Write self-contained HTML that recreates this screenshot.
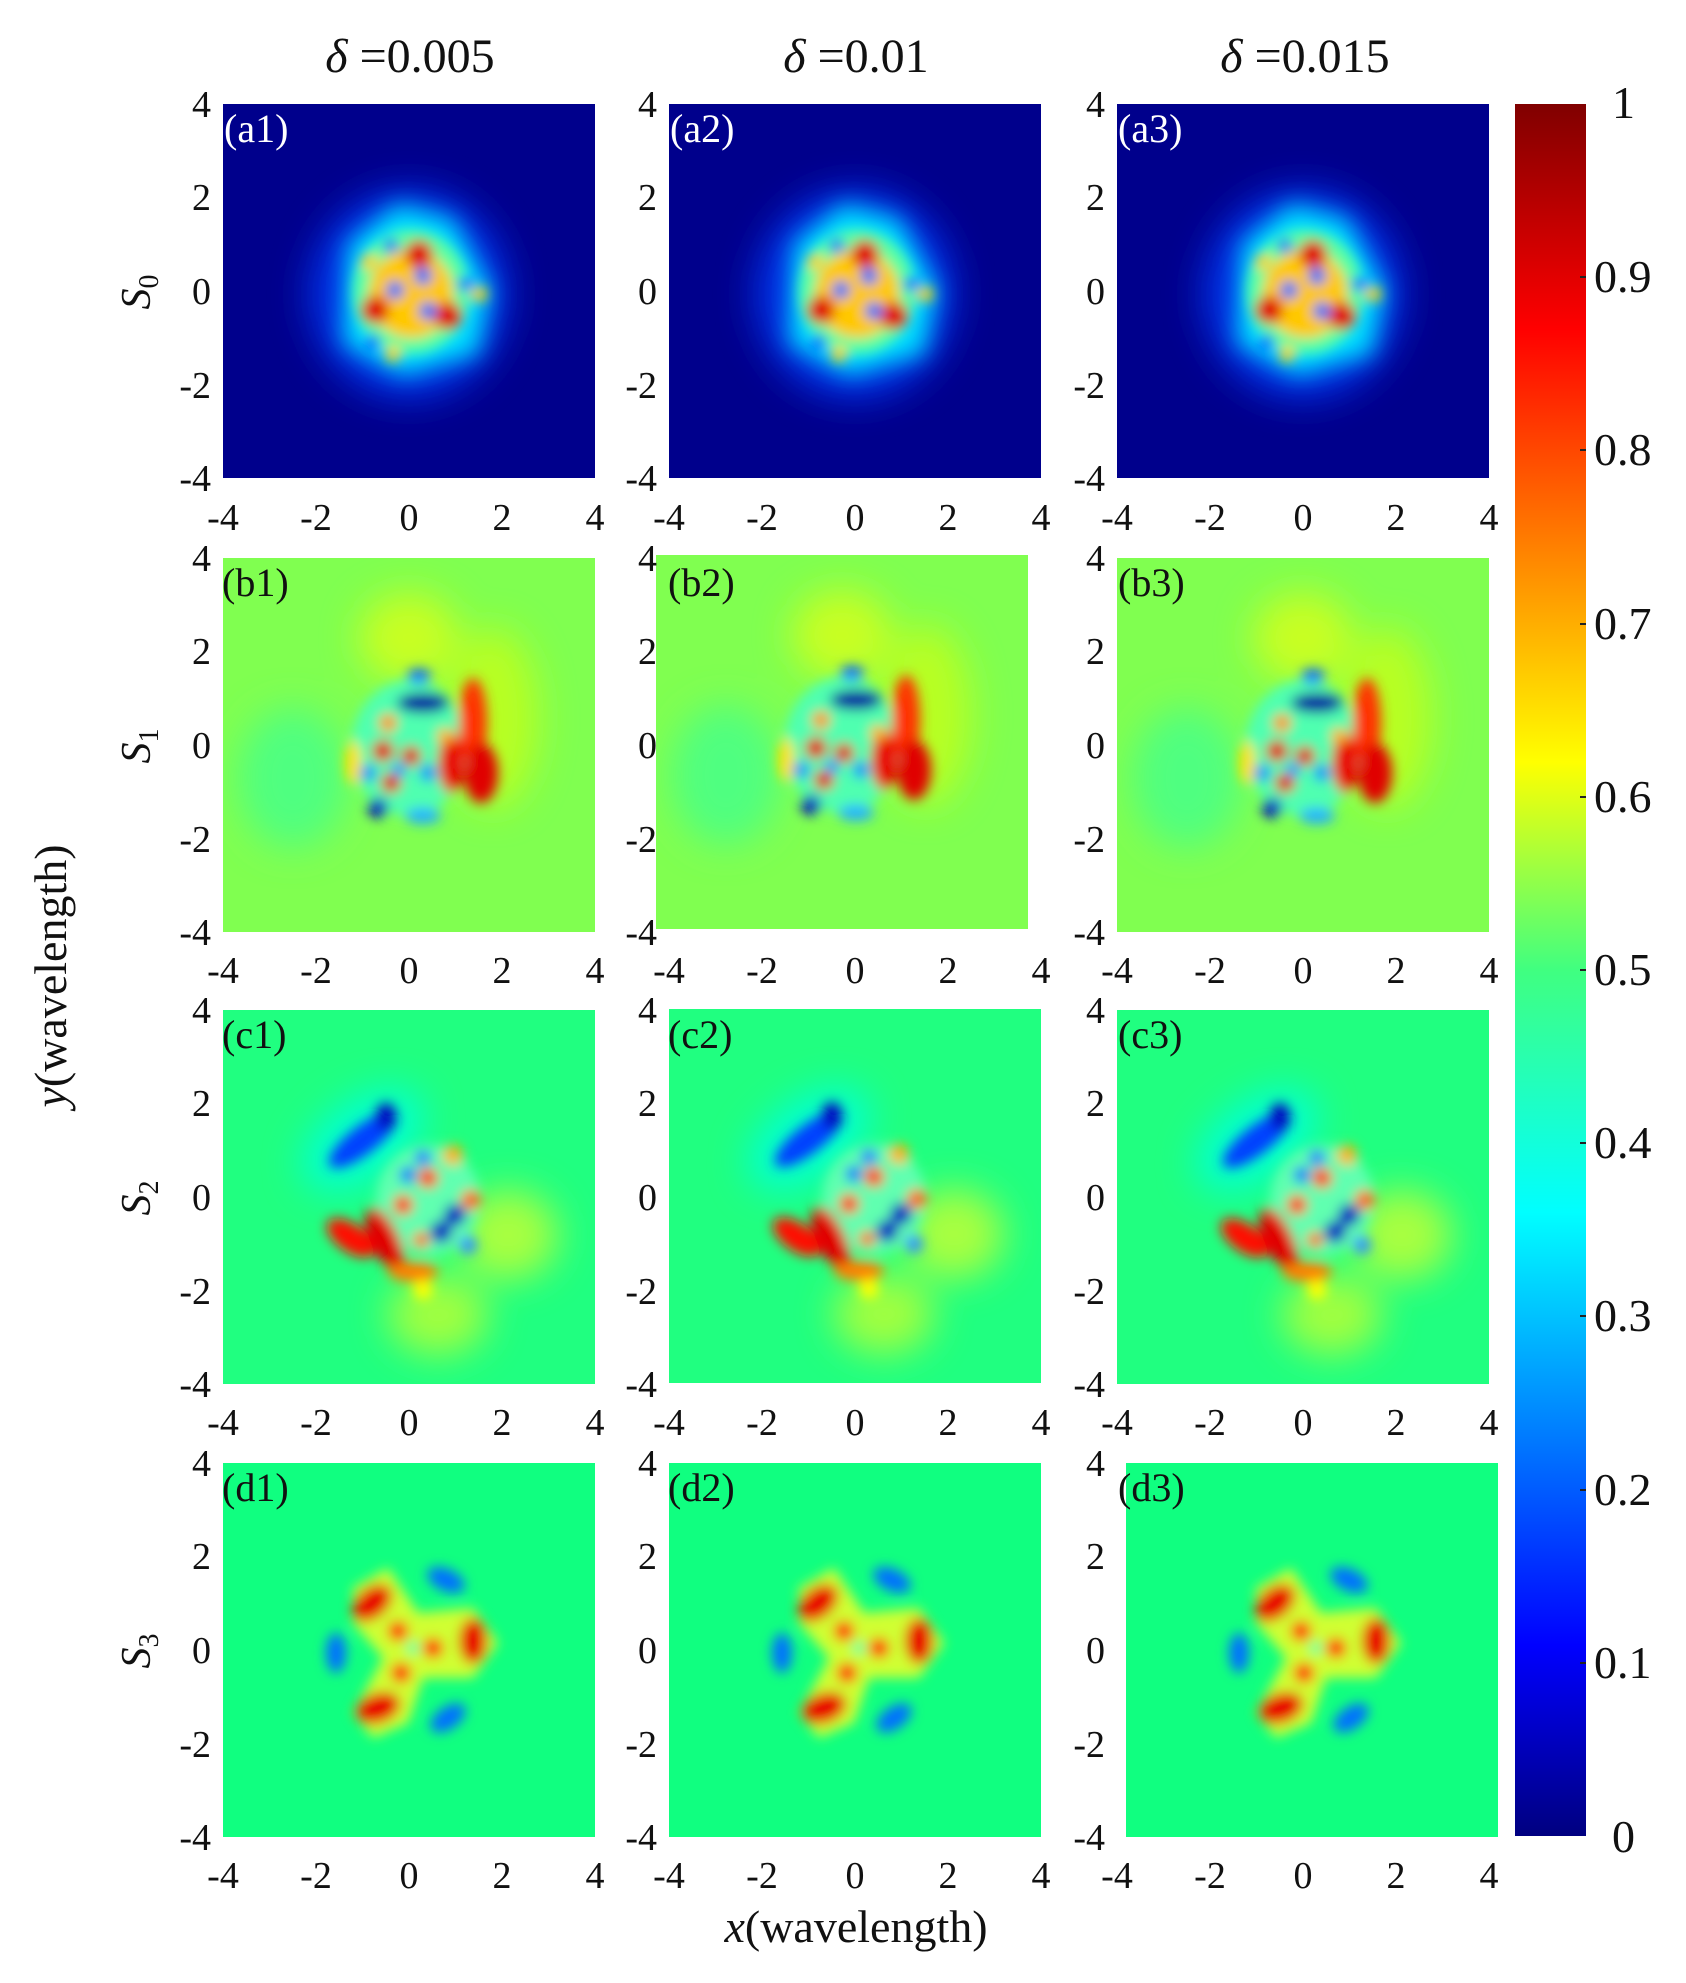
<!DOCTYPE html>
<html><head><meta charset="utf-8"><style>
html,body{margin:0;padding:0;background:#fff}
svg{display:block}
svg text{font-family:"Liberation Serif","Times New Roman",serif;fill:#111}
</style></head><body>
<svg width="1686" height="1983" viewBox="0 0 1686 1983" xmlns="http://www.w3.org/2000/svg" font-family="Liberation Serif, serif">
<defs>
<filter id="bl" x="-50%" y="-50%" width="200%" height="200%"><feGaussianBlur stdDeviation="6"/></filter>
<filter id="bl3" x="-50%" y="-50%" width="200%" height="200%"><feGaussianBlur stdDeviation="12"/></filter>
<filter id="bl2" x="-50%" y="-50%" width="200%" height="200%"><feGaussianBlur stdDeviation="18"/></filter>
<clipPath id="cp"><rect x="0" y="0" width="372" height="374"/></clipPath>
<linearGradient id="jet" x1="0" y1="1" x2="0" y2="0">
<stop offset="0" stop-color="#000080"/><stop offset="0.11" stop-color="#0000ff"/>
<stop offset="0.36" stop-color="#00ffff"/><stop offset="0.5" stop-color="#40ff80"/>
<stop offset="0.62" stop-color="#ffff00"/><stop offset="0.87" stop-color="#ff0000"/>
<stop offset="1" stop-color="#800000"/></linearGradient>

<g id="pa" clip-path="url(#cp)">
<rect width="372" height="374" fill="#00008c"/>
<g filter="url(#bl2)"><ellipse cx="186" cy="190" rx="100" ry="105" fill="#0030e8"/></g>
<g filter="url(#bl3)">
<path d="M125,140 L175,100 L230,115 L268,185 L255,250 L180,272 L120,240 Z" fill="#00e0ff"/>
</g>
<g filter="url(#bl)">
<ellipse cx="188" cy="188" rx="58" ry="62" fill="#60ffa0"/>
<ellipse cx="188" cy="190" rx="42" ry="44" fill="#ffc800"/>
<circle cx="152" cy="206" r="14" fill="#e00000"/>
<circle cx="196" cy="150" r="14" fill="#e00000"/>
<circle cx="225" cy="212" r="14" fill="#e00000"/>
<circle cx="172" cy="186" r="9" fill="#0070ff"/>
<circle cx="200" cy="172" r="9" fill="#0070ff"/>
<circle cx="205" cy="207" r="9" fill="#0070ff"/>
<circle cx="168" cy="142" r="7" fill="#0050ff"/>
<circle cx="242" cy="180" r="7" fill="#0050ff"/>
<circle cx="150" cy="238" r="7" fill="#0050ff"/>
<circle cx="146" cy="158" r="8" fill="#ffd000"/>
<circle cx="256" cy="190" r="8" fill="#ffd000"/>
<circle cx="170" cy="250" r="8" fill="#ffd000"/>
</g></g>

<g id="pb" clip-path="url(#cp)">
<rect width="372" height="374" fill="#80ff50"/>
<g filter="url(#bl2)">
<ellipse cx="186" cy="80" rx="50" ry="45" fill="#c8ff20"/>
<ellipse cx="70" cy="220" rx="55" ry="70" fill="#50ff80"/>
<ellipse cx="270" cy="160" rx="45" ry="90" fill="#b8ff20"/>
</g>
<g filter="url(#bl)">
<ellipse cx="186" cy="190" rx="58" ry="68" fill="#50ffb0"/>
<ellipse cx="250" cy="165" rx="14" ry="45" fill="#ff3000"/>
<ellipse cx="258" cy="215" rx="17" ry="30" fill="#e00000"/>
<ellipse cx="228" cy="205" rx="13" ry="30" fill="#e80000"/>
<ellipse cx="200" cy="145" rx="26" ry="10" fill="#0000a0"/>
<ellipse cx="196" cy="118" rx="12" ry="7" fill="#0060ff"/>
<circle cx="160" cy="193" r="11" fill="#e00000"/>
<circle cx="188" cy="198" r="10" fill="#e00000"/>
<circle cx="168" cy="225" r="10" fill="#e00000"/>
<circle cx="155" cy="250" r="10" fill="#0000c0"/>
<circle cx="145" cy="215" r="8" fill="#0080ff"/>
<circle cx="176" cy="212" r="7" fill="#0090ff"/>
<circle cx="205" cy="215" r="8" fill="#0080ff"/>
<ellipse cx="200" cy="258" rx="18" ry="8" fill="#20b0ff"/>
<ellipse cx="130" cy="205" rx="8" ry="22" fill="#ffe000"/>
<circle cx="165" cy="165" r="9" fill="#ff9000"/>
<circle cx="222" cy="178" r="8" fill="#ffb000"/>
</g></g>

<g id="pc" clip-path="url(#cp)">
<rect width="372" height="374" fill="#20ff80"/>
<g filter="url(#bl2)">
<ellipse cx="140" cy="130" rx="70" ry="40" transform="rotate(-35 140 130)" fill="#00ffd0"/>
<ellipse cx="285" cy="225" rx="50" ry="45" fill="#a8ff40"/>
<ellipse cx="215" cy="305" rx="50" ry="40" fill="#a0ff40"/>
</g>
<g filter="url(#bl)">
<ellipse cx="205" cy="190" rx="52" ry="55" fill="#60ffb0"/>
<ellipse cx="140" cy="130" rx="42" ry="14" transform="rotate(-38 140 130)" fill="#0040ff"/>
<ellipse cx="163" cy="107" rx="10" ry="14" fill="#0000c0"/>
<ellipse cx="128" cy="228" rx="28" ry="14" transform="rotate(35 128 228)" fill="#ff1000"/>
<ellipse cx="162" cy="230" rx="14" ry="35" transform="rotate(-25 162 230)" fill="#e00000"/>
<ellipse cx="190" cy="262" rx="25" ry="10" fill="#ff8000"/>
<circle cx="200" cy="280" r="10" fill="#ffff00"/>
<circle cx="232" cy="205" r="11" fill="#0000c0"/>
<circle cx="218" cy="222" r="11" fill="#0000c0"/>
<circle cx="205" cy="168" r="10" fill="#ff2000"/>
<circle cx="180" cy="195" r="10" fill="#ff3000"/>
<circle cx="248" cy="190" r="10" fill="#ff6000"/>
<circle cx="230" cy="145" r="10" fill="#ffb000"/>
<circle cx="185" cy="165" r="8" fill="#0060ff"/>
<circle cx="200" cy="148" r="8" fill="#2070ff"/>
<circle cx="245" cy="235" r="9" fill="#3090ff"/>
<circle cx="198" cy="230" r="8" fill="#ff6000"/>
</g></g>

<g id="pd" clip-path="url(#cp)">
<rect width="372" height="374" fill="#10ff80"/>
<g filter="url(#bl)">
<path d="M130,125 L165,105 L195,150 L250,145 L275,180 L250,215 L200,215 L185,260 L150,275 L130,250 L160,195 L130,160 Z" fill="#d0ff30"/>
<ellipse cx="149" cy="140" rx="15" ry="23" transform="rotate(50 149 140)" fill="#e80000"/>
<ellipse cx="250" cy="178" rx="14" ry="23" fill="#e80000"/>
<ellipse cx="155" cy="245" rx="15" ry="23" transform="rotate(70 155 245)" fill="#e80000"/>
<circle cx="175" cy="168" r="10" fill="#ff1000"/>
<circle cx="210" cy="185" r="10" fill="#ff1000"/>
<circle cx="178" cy="210" r="10" fill="#ff1000"/>
<circle cx="190" cy="185" r="6" fill="#30ffb0"/>
<ellipse cx="223" cy="117" rx="20" ry="11" transform="rotate(25 223 117)" fill="#0070ff"/>
<ellipse cx="113" cy="190" rx="10" ry="20" fill="#0070ff"/>
<ellipse cx="225" cy="255" rx="20" ry="11" transform="rotate(-35 225 255)" fill="#0070ff"/>
</g></g>
</defs>

<g font-family="Liberation Serif, serif">
<text x="410" y="72" font-size="48" text-anchor="middle"><tspan font-style="italic">δ</tspan> =0.005</text>
<text x="856" y="72" font-size="48" text-anchor="middle"><tspan font-style="italic">δ</tspan> =0.01</text>
<text x="1305" y="72" font-size="48" text-anchor="middle"><tspan font-style="italic">δ</tspan> =0.015</text>
</g>

<use href="#pa" x="223" y="104"/><use href="#pa" x="669" y="104"/><use href="#pa" x="1117" y="104"/>
<use href="#pb" x="223" y="558"/><use href="#pb" x="656" y="555"/><use href="#pb" x="1117" y="558"/>
<use href="#pc" x="223" y="1010"/><use href="#pc" x="669" y="1009"/><use href="#pc" x="1117" y="1010"/>
<use href="#pd" x="223" y="1463"/><use href="#pd" x="669" y="1463"/><use href="#pd" x="1126" y="1463"/>

<g font-size="40" font-family="Liberation Serif, serif">
<text x="224" y="142" style="fill:#fff">(a1)</text><text x="670" y="142" style="fill:#fff">(a2)</text><text x="1118" y="142" style="fill:#fff">(a3)</text>
<text x="222" y="596">(b1)</text><text x="668" y="596">(b2)</text><text x="1118" y="596">(b3)</text>
<text x="222" y="1048">(c1)</text><text x="668" y="1048">(c2)</text><text x="1118" y="1048">(c3)</text>
<text x="222" y="1501">(d1)</text><text x="668" y="1501">(d2)</text><text x="1118" y="1501">(d3)</text>
</g>

<g font-size="38" text-anchor="end" font-family="Liberation Serif, serif">
<g id="yt"><text x="211" y="117">4</text><text x="211" y="210">2</text><text x="211" y="304">0</text><text x="211" y="398">-2</text><text x="211" y="491">-4</text></g>
<use href="#yt" x="446"/><use href="#yt" x="894"/>
<use href="#yt" y="454"/><use href="#yt" x="446" y="454"/><use href="#yt" x="894" y="454"/>
<use href="#yt" y="906"/><use href="#yt" x="446" y="906"/><use href="#yt" x="894" y="906"/>
<use href="#yt" y="1359"/><use href="#yt" x="446" y="1359"/><use href="#yt" x="894" y="1359"/>
</g>
<g font-size="38" text-anchor="middle" font-family="Liberation Serif, serif">
<g id="xt"><text x="223" y="530">-4</text><text x="316" y="530">-2</text><text x="409" y="530">0</text><text x="502" y="530">2</text><text x="595" y="530">4</text></g>
<use href="#xt" x="446"/><use href="#xt" x="894"/>
<use href="#xt" y="453"/><use href="#xt" x="446" y="453"/><use href="#xt" x="894" y="453"/>
<use href="#xt" y="905"/><use href="#xt" x="446" y="905"/><use href="#xt" x="894" y="905"/>
<use href="#xt" y="1358"/><use href="#xt" x="446" y="1358"/><use href="#xt" x="894" y="1358"/>
</g>

<g font-size="42" font-style="italic" font-family="Liberation Serif, serif">
<text transform="translate(150 292) rotate(-90)" text-anchor="middle">S<tspan font-size="28" dy="8" font-style="normal">0</tspan></text>
<text transform="translate(150 746) rotate(-90)" text-anchor="middle">S<tspan font-size="28" dy="8" font-style="normal">1</tspan></text>
<text transform="translate(150 1198) rotate(-90)" text-anchor="middle">S<tspan font-size="28" dy="8" font-style="normal">2</tspan></text>
<text transform="translate(150 1651) rotate(-90)" text-anchor="middle">S<tspan font-size="28" dy="8" font-style="normal">3</tspan></text>
</g>
<text transform="translate(66 976) rotate(-90)" font-size="46" text-anchor="middle" font-family="Liberation Serif, serif"><tspan font-style="italic">y</tspan>(wavelength)</text>
<text x="856" y="1942" font-size="46" text-anchor="middle" font-family="Liberation Serif, serif"><tspan font-style="italic">x</tspan>(wavelength)</text>

<rect x="1515" y="104" width="71" height="1732" fill="url(#jet)"/>
<g stroke="#222" stroke-width="2">
<line x1="1580" x2="1586" y1="277" y2="277"/><line x1="1580" x2="1586" y1="450" y2="450"/>
<line x1="1580" x2="1586" y1="624" y2="624"/><line x1="1580" x2="1586" y1="797" y2="797"/>
<line x1="1580" x2="1586" y1="970" y2="970"/><line x1="1580" x2="1586" y1="1143" y2="1143"/>
<line x1="1580" x2="1586" y1="1316" y2="1316"/><line x1="1580" x2="1586" y1="1490" y2="1490"/>
<line x1="1580" x2="1586" y1="1663" y2="1663"/>
</g>
<g font-size="46" font-family="Liberation Serif, serif">
<text x="1612" y="118">1</text><text x="1594" y="292">0.9</text><text x="1594" y="465">0.8</text>
<text x="1594" y="639">0.7</text><text x="1594" y="812">0.6</text><text x="1594" y="985">0.5</text>
<text x="1594" y="1158">0.4</text><text x="1594" y="1331">0.3</text><text x="1594" y="1505">0.2</text>
<text x="1594" y="1678">0.1</text><text x="1612" y="1852">0</text>
</g>
</svg>
</body></html>
